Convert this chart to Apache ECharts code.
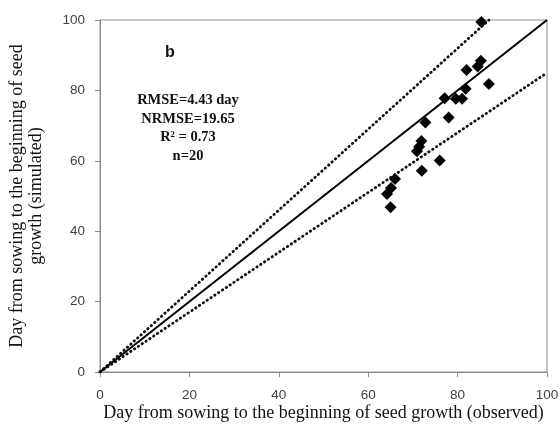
<!DOCTYPE html>
<html>
<head>
<meta charset="utf-8">
<script src="https://cdn.jsdelivr.net/npm/echarts@6/dist/echarts.min.js"></script>
<style>
  html, body { margin: 0; padding: 0; background: #fff; }
  #chart { width: 560px; height: 430px; }
</style>
</head>
<body>
<div id="chart"></div>
<script>
// Observed vs simulated days from sowing to beginning of seed growth
const observed = [85.3, 85.2, 84.5, 82.0, 87.0, 81.8, 77.1, 79.6, 81.0, 72.8,
                  78.0, 71.9, 71.4, 70.9, 76.0, 72.0, 66.0, 65.1, 64.2, 65.0];
const simulated = [99.4, 88.4, 86.8, 85.8, 81.8, 80.5, 77.8, 77.6, 77.6, 70.9,
                   72.3, 65.6, 64.0, 62.7, 60.1, 57.2, 54.8, 52.3, 50.6, 46.8];

// 1:1 line and the ±15% envelope
const oneToOne = [[0, 0], [100, 100]];
const upperBound = [[0, 0], [87, 100]];
const lowerBound = [[0, 0], [100, 85]];

const axisTicks = [0, 20, 40, 60, 80, 100];
const panelLetter = 'b';
const statsLines = ['RMSE=4.43 day', 'NRMSE=19.65', 'R² = 0.73', 'n=20'];

const points = observed.map((x, i) => [x, simulated[i]]);

const chart = echarts.init(document.getElementById('chart'), null, { renderer: 'canvas' });

const axisCommon = {
  type: 'value',
  min: axisTicks[0],
  max: axisTicks[axisTicks.length - 1],
  interval: axisTicks[1] - axisTicks[0],
  splitLine: { show: false },
  axisLine: { show: true, lineStyle: { color: '#8c8c8c', width: 1 } },
  axisTick: { show: true, inside: false, length: 5, lineStyle: { color: '#8c8c8c' } },
  axisLabel: { color: '#404040', fontFamily: 'Liberation Sans', fontSize: 13.5 },
  nameLocation: 'middle',
  nameMoveOverlap: false,
  nameTextStyle: { fontFamily: 'Liberation Serif', fontSize: 18, color: '#111' }
};

const dotted = { color: '#111', width: 2.8, type: [0.5, 4.1], cap: 'round' };

chart.setOption({
  animation: false,
  backgroundColor: '#fff',
  grid: {
    left: 100, right: 13, top: 20, bottom: 58,
    containLabel: false, outerBoundsMode: 'none',
    show: true, borderColor: '#8c8c8c', borderWidth: 1
  },
  xAxis: Object.assign({}, axisCommon, {
    name: 'Day from sowing to the beginning of seed growth (observed)',
    nameGap: 32,
    axisLabel: Object.assign({}, axisCommon.axisLabel, { margin: 16 })
  }),
  yAxis: Object.assign({}, axisCommon, {
    name: 'Day from sowing to the beginning of seed\ngrowth (simulated)',
    nameGap: 54,
    nameTextStyle: Object.assign({}, axisCommon.nameTextStyle, { lineHeight: 19 }),
    axisLabel: Object.assign({}, axisCommon.axisLabel, { margin: 15 })
  }),
  graphic: [
    {
      type: 'text', x: 165, y: 45,
      style: { text: panelLetter, font: 'bold 16px "Liberation Sans"', fill: '#111' }
    },
    {
      type: 'text', x: 188, y: 91,
      style: {
        text: statsLines.join('\n'),
        font: 'bold 14.5px "Liberation Serif"',
        fill: '#111',
        align: 'center',
        lineHeight: 18.5
      }
    }
  ],
  series: [
    { type: 'line', data: upperBound, symbol: 'none', silent: true, lineStyle: dotted },
    { type: 'line', data: lowerBound, symbol: 'none', silent: true, lineStyle: dotted },
    {
      type: 'line', data: oneToOne, symbol: 'none', silent: true,
      lineStyle: { color: '#000', width: 2 }
    },
    {
      type: 'scatter', data: points, symbol: 'diamond', symbolSize: 12,
      itemStyle: { color: '#000', opacity: 1 }
    }
  ]
});
</script>
</body>
</html>
